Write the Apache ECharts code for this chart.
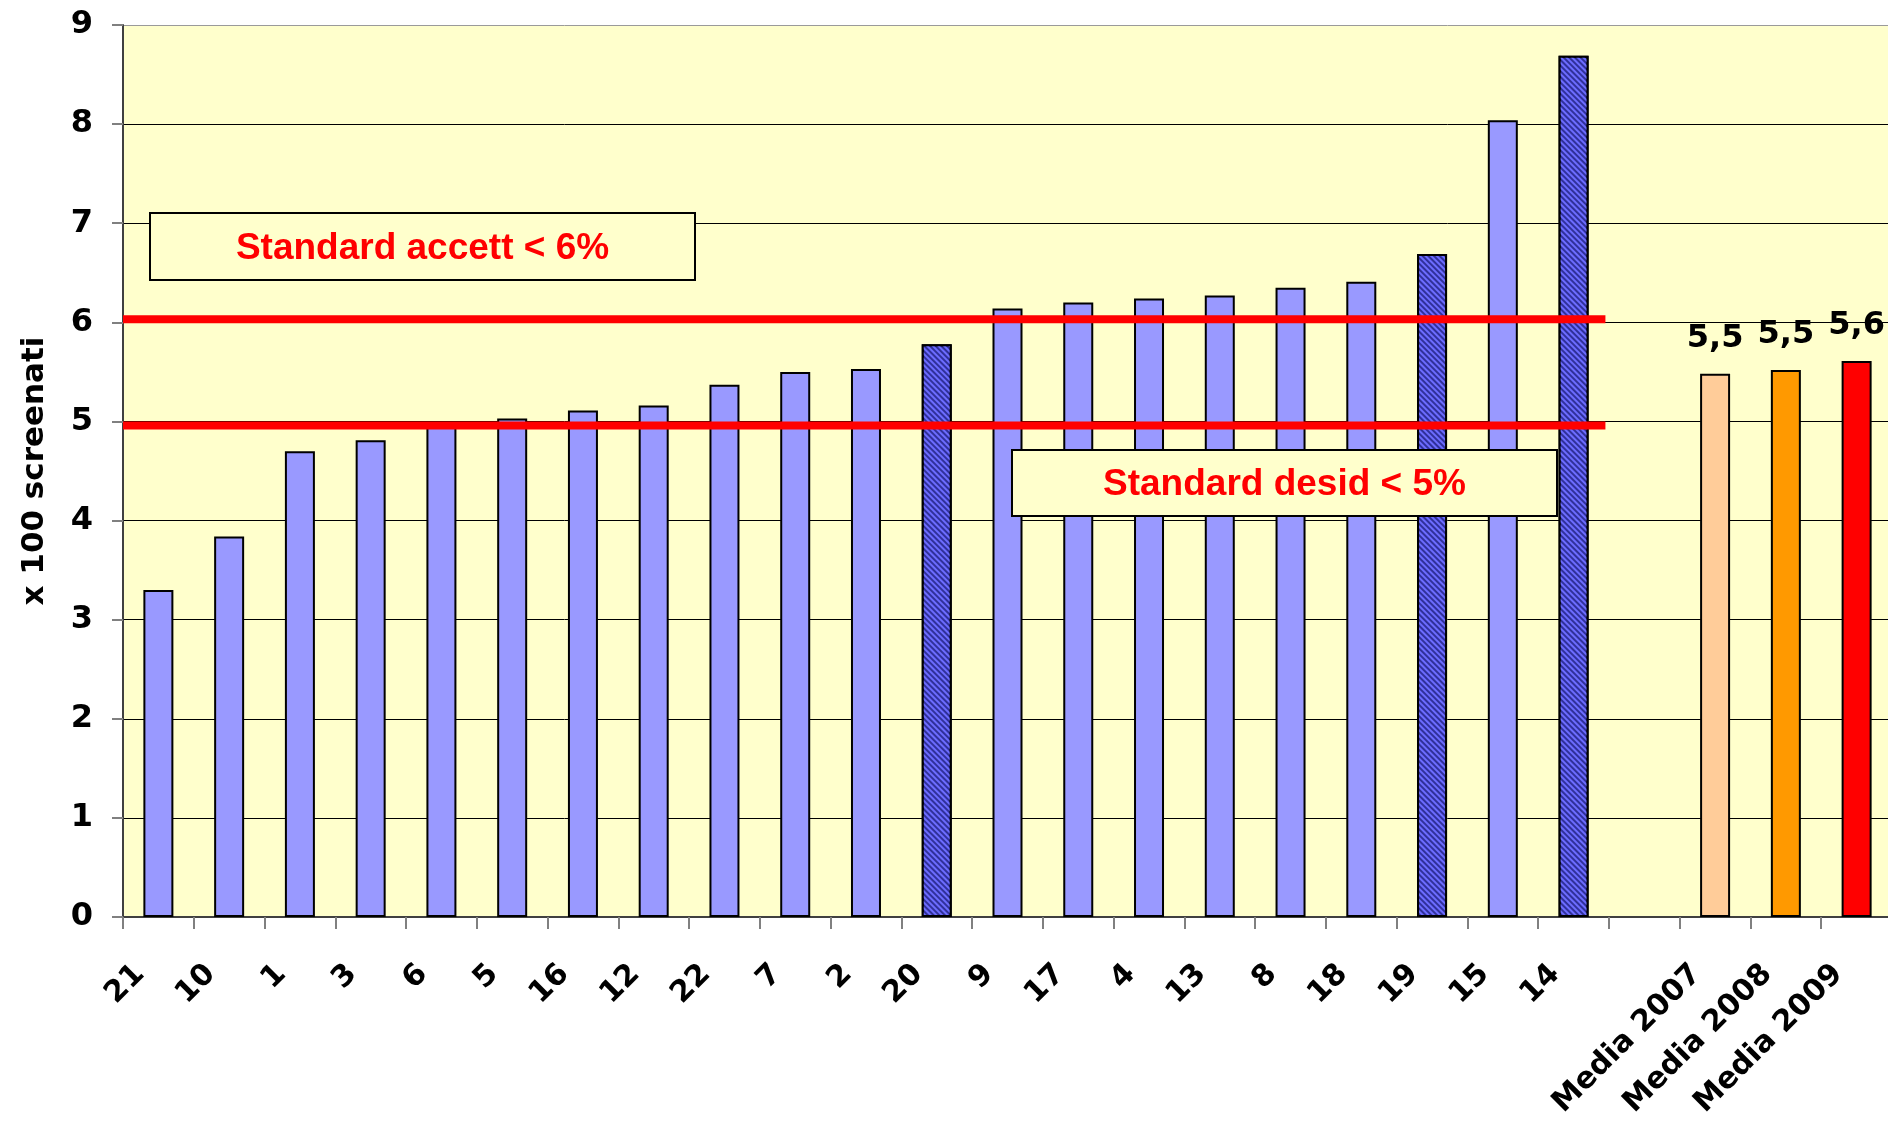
<!DOCTYPE html>
<html>
<head>
<meta charset="utf-8">
<script src="https://cdn.jsdelivr.net/npm/echarts@6/dist/echarts.min.js"></script>
<style>
  html, body { margin: 0; padding: 0; background: #fff; }
  #chart { width: 1888px; height: 1123px; }
</style>
</head>
<body>
<div id="chart"></div>
<script>
// categorie (la colonna vuota separa i centri dalle medie)
const categories = ['21', '10', '1', '3', '6', '5', '16', '12', '22', '7', '2', '20',
  '9', '17', '4', '13', '8', '18', '19', '15', '14', '', 'Media 2007', 'Media 2008', 'Media 2009']
const values = [3.30, 3.84, 4.70, 4.81, 5.00, 5.03, 5.11, 5.16, 5.37, 5.50, 5.53, 5.78,
  6.14, 6.20, 6.24, 6.27, 6.35, 6.41, 6.69, 8.04, 8.69, null, 5.48, 5.52, 5.61]
const hatchedCats = ['20', '19', '14']
const mediaCats = ['Media 2007', 'Media 2008', 'Media 2009']
// linee degli standard: valore e fine linea (in unita' di categoria)
const standardValues = [6.03, 4.96]
const standardLineEnd = [0, 20.95]
const boxTexts = ['Standard accett < 6%', 'Standard desid < 5%']

const mediaColors = ['#FFCC99', '#FF9900', '#FF0000']
const axisFont = '"DejaVu Sans", sans-serif'

const chart = echarts.init(document.getElementById('chart'))

const barData = values.map((v, i) => {
  const cat = categories[i]
  const item = { value: v == null ? '-' : v, itemStyle: {} }
  if (hatchedCats.includes(cat)) {
    item.itemStyle = {
      color: '#30309a',
      decal: {
        symbol: 'rect',
        symbolSize: 1,
        dashArrayX: [1, 0],
        dashArrayY: [1.5, 1.5],
        rotation: Math.PI / 4,
        color: '#6c6cff'
      }
    }
  }
  const m = mediaCats.indexOf(cat)
  if (m >= 0) {
    item.itemStyle = { color: mediaColors[m] }
    item.label = {
      show: true,
      position: 'top',
      distance: 19,
      formatter: p => p.value.toFixed(1).replace('.', ','),
      fontFamily: axisFont,
      fontWeight: 'bold',
      fontSize: 32,
      color: '#000'
    }
  }
  return item
})

const lineSeries = standardValues.map(v => ({
  type: 'line',
  xAxisIndex: 1,
  yAxisIndex: 0,
  data: standardLineEnd.map(x => [x, v]),
  symbol: 'none',
  silent: true,
  z: 5,
  lineStyle: { color: '#FF0000', width: 8 }
}))

// riquadro con testo
function box (x, y, w, h, text) {
  return [{
    type: 'rect',
    z: 100,
    shape: { x: x, y: y, width: w, height: h },
    style: { fill: '#FFFFCC', stroke: '#000', lineWidth: 2 }
  }, {
    type: 'text',
    z: 101,
    x: x + w / 2,
    y: y + h / 2 + 2,
    style: {
      text: text,
      fill: '#FF0000',
      font: 'bold 37px "Liberation Sans", Arial, sans-serif',
      align: 'center',
      verticalAlign: 'middle',
      textAlign: 'center',
      textVerticalAlign: 'middle'
    }
  }]
}

chart.setOption({
  animation: false,
  grid: {
    left: 123, top: 25, width: 1769, height: 892,
    outerBoundsMode: 'none',
    containLabel: false,
    show: true, backgroundColor: '#FFFFCC', borderWidth: 0
  },
  xAxis: [{
    type: 'category',
    data: categories,
    boundaryGap: true,
    axisLine: { lineStyle: { color: '#404040', width: 2 } },
    axisTick: { show: true, interval: 0, length: 12, lineStyle: { color: '#808080', width: 2 } },
    axisLabel: {
      interval: 0,
      rotate: 45,
      margin: 34,
      padding: [0, 26, 0, 0],
      fontFamily: axisFont,
      fontWeight: 'bold',
      fontSize: 30,
      color: '#000'
    },
    splitLine: { show: false }
  }, {
    type: 'value',
    min: 0,
    max: 25,
    show: false
  }],
  yAxis: {
    type: 'value',
    min: 0,
    max: 9,
    interval: 1,
    name: 'x 100 screenati',
    nameLocation: 'middle',
    nameRotate: 90,
    nameGap: 73,
    nameTextStyle: { fontFamily: axisFont, fontWeight: 'bold', fontSize: 31, color: '#000' },
    axisLine: { show: true, lineStyle: { color: '#404040', width: 2 } },
    axisTick: { show: true, length: 11, lineStyle: { color: '#808080', width: 2 } },
    axisLabel: { margin: 30, fontFamily: axisFont, fontWeight: 'bold', fontSize: 32, color: '#000' },
    splitLine: {
      show: true,
      lineStyle: {
        color: ['#000', '#000', '#000', '#000', '#000', '#000', '#000', '#000', '#000', '#9a9a9a'],
        width: 1
      }
    }
  },
  series: [{
    type: 'bar',
    data: barData,
    barWidth: 30,
    itemStyle: { color: '#9999FF', borderColor: '#000', borderWidth: 2 }
  }].concat(lineSeries),
  graphic: box(150, 213, 545, 67, boxTexts[0]).concat(box(1012, 450, 545, 66, boxTexts[1]))
})
</script>
</body>
</html>
